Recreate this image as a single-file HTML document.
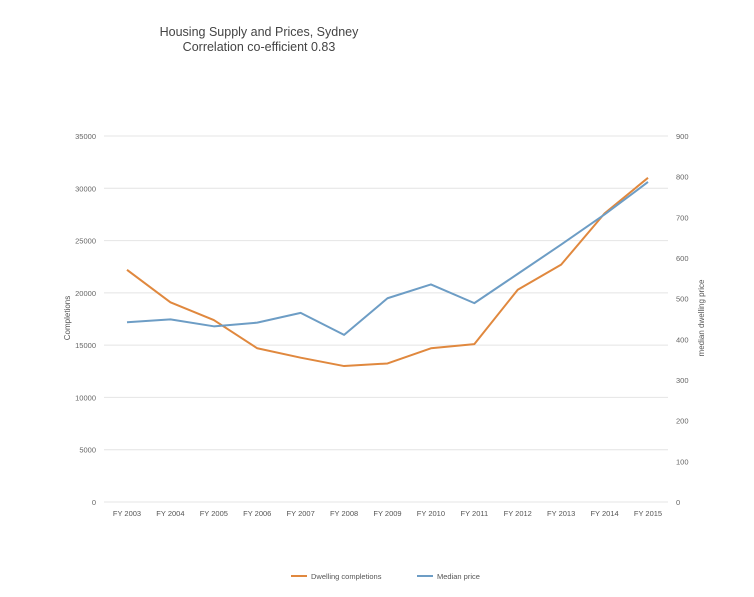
<!DOCTYPE html>
<html><head><meta charset="utf-8"><style>
body{margin:0;background:#fff;font-family:"Liberation Sans",sans-serif;}
</style></head><body>
<svg width="754" height="592" xmlns="http://www.w3.org/2000/svg" font-family="Liberation Sans, sans-serif">
<rect width="754" height="592" fill="#fff"/>
<text x="259" y="36" text-anchor="middle" font-size="12.5" fill="#444">Housing Supply and Prices, Sydney</text>
<text x="259" y="51" text-anchor="middle" font-size="12.5" fill="#444">Correlation co-efficient 0.83</text>
<g id="grid"></g><g id="lt"></g><g id="rt"></g><g id="xt"></g><g id="series"></g>
<text transform="translate(70,318) rotate(-90)" text-anchor="middle" font-size="8" fill="#555">Completions</text>
<text transform="translate(704,318) rotate(-90)" text-anchor="middle" font-size="8" fill="#555">median dwelling price</text>
<g>
<line x1="291" y1="576" x2="307" y2="576" stroke="#e0883e" stroke-width="2"/>
<text x="311" y="579" font-size="7.5" fill="#555">Dwelling completions</text>
<line x1="417" y1="576" x2="433" y2="576" stroke="#6d9dc5" stroke-width="2"/>
<text x="437" y="579" font-size="7.5" fill="#555">Median price</text>
</g>
</svg>
<script>
const categories=["FY 2003","FY 2004","FY 2005","FY 2006","FY 2007","FY 2008","FY 2009","FY 2010","FY 2011","FY 2012","FY 2013","FY 2014","FY 2015"];
const completions=[22200,19100,17400,14700,13800,13000,13250,14700,15100,20300,22700,27600,31000];
const medianPrice=[442,449,432,441,465,411,501,535,489,561,633,707,787];
const leftTicks=[0,5000,10000,15000,20000,25000,30000,35000];
const rightTicks=[0,100,200,300,400,500,600,700,800,900];
(function(){
const NS="http://www.w3.org/2000/svg";
const plotTop=136,plotBot=502,x0=104,x1=668;
const yL=v=>plotBot-(v/35000)*(plotBot-plotTop);
const yR=v=>plotBot-(v/900)*(plotBot-plotTop);
const xC=i=>127+i*(648-127)/(categories.length-1);
function mk(tag,attrs,parent,txt){const e=document.createElementNS(NS,tag);for(const k in attrs)e.setAttribute(k,attrs[k]);if(txt!==undefined)e.textContent=txt;document.getElementById(parent).appendChild(e);return e;}
leftTicks.forEach(t=>{
 const g=mk('line',{x1:x0,x2:x1,y1:yL(t),y2:yL(t),stroke:'#e4e4e4','stroke-width':1},'grid');
 
 
 const l=mk('text',{x:96,y:yL(t)+3,'text-anchor':'end','font-size':7.5,fill:'#666'},'lt',String(t));
 
 
});
rightTicks.forEach(t=>{
 const l=mk('text',{x:676,y:yR(t)+3,'font-size':7.5,fill:'#666'},'rt',String(t));
 
 
});
categories.forEach((c,i)=>{
 const l=mk('text',{x:xC(i),y:516,'text-anchor':'middle','font-size':7.5,fill:'#555'},'xt',c);
 
 
});
const pc=mk('polyline',{points:completions.map((v,i)=>xC(i)+','+yL(v)).join(' '),fill:'none',stroke:'#e0883e','stroke-width':2,'stroke-linejoin':'round'},'series');


const pp=mk('polyline',{points:medianPrice.map((v,i)=>xC(i)+','+yR(v)).join(' '),fill:'none',stroke:'#6d9dc5','stroke-width':2,'stroke-linejoin':'round'},'series');


})();
</script>
</body></html>
